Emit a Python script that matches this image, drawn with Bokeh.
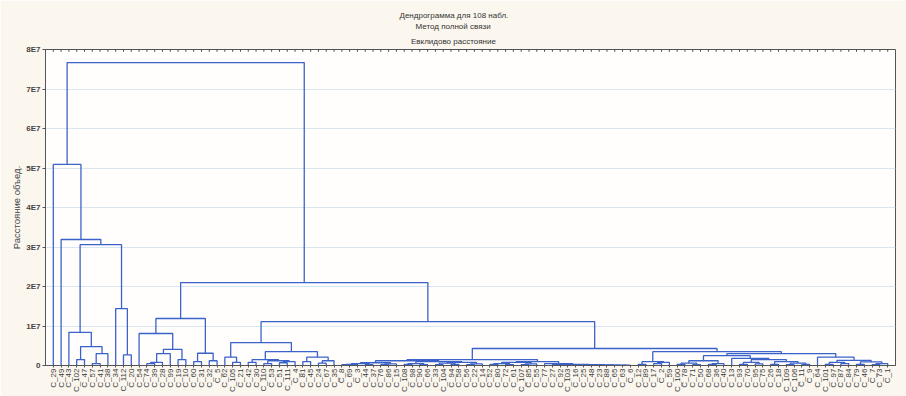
import numpy as np
from bokeh.plotting import figure
from bokeh.models import FixedTicker, Range1d, Title
from bokeh.embed import file_html
from bokeh.resources import INLINE

title_lines = ["Дендрограмма для 108 набл.", "Метод полной связи", "Евклидово расстояние"]
y_label = "Расстояние объед."

leaf_labels = [
    "C_29", "C_49", "C_43", "C_102", "C_47", "C_57", "C_41", "C_38", "C_34", "C_112",
    "C_20", "C_54", "C_74", "C_39", "C_28", "C_99", "C_19", "C_10", "C_60", "C_31",
    "C_32", "C_5", "C_62", "C_105", "C_21", "C_42", "C_30", "C_110", "C_53", "C_51",
    "C_111", "C_4", "C_81", "C_45", "C_24", "C_67", "C_35", "C_8", "C_69", "C_3",
    "C_44", "C_37", "C_76", "C_86", "C_15", "C_108", "C_98", "C_90", "C_66", "C_33",
    "C_104", "C_94", "C_58", "C_56", "C_22", "C_14", "C_52", "C_80", "C_72", "C_61",
    "C_107", "C_85", "C_55", "C_77", "C_27", "C_92", "C_103", "C_16", "C_25", "C_48",
    "C_23", "C_88", "C_65", "C_63", "C_6", "C_12", "C_89", "C_17", "C_2", "C_59",
    "C_100", "C_78", "C_71", "C_50", "C_68", "C_36", "C_40", "C_13", "C_93", "C_70",
    "C_95", "C_75", "C_26", "C_18", "C_109", "C_106", "C_11", "C_9", "C_64", "C_101",
    "C_97", "C_87", "C_84", "C_79", "C_46", "C_7", "C_73", "C_1",
]

# each merge joins leaves lo..split with split+1..hi (positions in leaf order, 1-based)
merge_lo = [4, 6, 6, 4, 3, 10, 9, 3, 2, 1,
            13, 13, 13, 17, 13, 12, 19, 21, 19, 12,
            24, 23, 26, 28, 30, 30, 28, 26, 33, 35, 35, 33, 26, 23,
            38, 38, 41, 38, 43, 43, 38, 46, 48, 46, 50, 52, 50, 54, 54, 50, 46, 38,
            57, 59, 57, 61, 61, 57, 74, 73, 72, 70, 70, 68, 67, 67, 65, 65, 64, 57, 38,
            76, 78, 78, 76,
            81, 83, 81, 85, 85, 81, 89, 91, 89, 93, 95, 97, 95, 93, 89, 88, 81,
            100, 102, 100, 104, 106, 106, 104, 100, 99, 81, 76, 38, 23, 12, 1]
merge_split = [4, 6, 7, 5, 3, 10, 9, 8, 2, 1,
               13, 14, 15, 17, 16, 12, 19, 21, 20, 18,
               24, 23, 26, 28, 30, 31, 29, 27, 33, 35, 36, 34, 32, 25,
               38, 39, 41, 40, 43, 44, 42, 46, 48, 47, 50, 52, 51, 54, 55, 53, 49, 45,
               57, 59, 58, 61, 62, 60, 74, 73, 72, 70, 71, 68, 67, 69, 65, 66, 64, 63, 56,
               76, 78, 79, 77,
               81, 83, 82, 85, 86, 84, 89, 91, 90, 93, 95, 97, 96, 94, 92, 88, 87,
               100, 102, 101, 104, 106, 107, 105, 103, 99, 98, 80, 75, 37, 22, 11]
merge_hi = [5, 7, 8, 8, 8, 11, 11, 11, 11, 11,
            14, 15, 16, 18, 18, 18, 20, 22, 22, 22,
            25, 25, 27, 29, 31, 32, 32, 32, 34, 36, 37, 37, 37, 37,
            39, 40, 42, 42, 44, 45, 45, 47, 49, 49, 51, 53, 53, 55, 56, 56, 56, 56,
            58, 60, 60, 62, 63, 63, 75, 75, 75, 71, 75, 69, 69, 75, 66, 75, 75, 75, 75,
            77, 79, 80, 80,
            82, 84, 84, 86, 87, 87, 90, 92, 92, 94, 96, 98, 98, 98, 98, 98, 98,
            101, 103, 103, 105, 107, 108, 108, 108, 108, 108, 108, 108, 108, 108, 108]
merge_height = [0.15, 0.05, 0.30, 0.48, 0.84, 0.27, 1.44, 3.06, 3.19, 5.09,
                0.05, 0.08, 0.30, 0.15, 0.41, 0.81, 0.10, 0.12, 0.31, 1.19,
                0.08, 0.21, 0.08, 0.05, 0.07, 0.10, 0.12, 0.15, 0.10, 0.06, 0.12, 0.21, 0.35, 0.58,
                0.02, 0.03, 0.02, 0.05, 0.02, 0.04, 0.07, 0.03, 0.02, 0.05, 0.02, 0.03, 0.06, 0.02, 0.04, 0.08, 0.10, 0.12,
                0.03, 0.02, 0.05, 0.02, 0.04, 0.08, 0.01, 0.01, 0.01, 0.01, 0.015, 0.01, 0.01, 0.02, 0.02, 0.03, 0.05, 0.10, 0.15,
                0.03, 0.05, 0.08, 0.10,
                0.03, 0.02, 0.06, 0.03, 0.05, 0.12, 0.03, 0.04, 0.08, 0.03, 0.02, 0.03, 0.06, 0.10, 0.15, 0.18, 0.25,
                0.03, 0.05, 0.08, 0.03, 0.02, 0.05, 0.09, 0.13, 0.21, 0.30, 0.35, 0.43, 1.11, 2.10, 7.67]
height_unit = 1e7

y_ticks = [0, 1, 2, 3, 4, 5, 6, 7, 8]
y_tick_labels = ["0", "1E7", "2E7", "3E7", "4E7", "5E7", "6E7", "7E7", "8E7"]

n_leaves = len(leaf_labels)
leaf_pos = list(range(1, n_leaves + 1))
y_max = y_ticks[-1] * height_unit

# ---- build dendrogram segments ----
node = {(i, i): (float(i), 0.0) for i in leaf_pos}
order = sorted(range(len(merge_lo)), key=lambda k: merge_hi[k] - merge_lo[k])
xs, ys = [], []
for k in order:
    lo, s, hi = merge_lo[k], merge_split[k], merge_hi[k]
    h = merge_height[k] * height_unit
    xl, hl = node[(lo, s)]
    xr, hr = node[(s + 1, hi)]
    xs.append([xl, xl, xr, xr])
    ys.append([hl, h, h, hr])
    node[(lo, hi)] = ((xl + xr) / 2.0, h)

W, H = 906, 396
B_LEFT, B_RIGHT, B_TOP, B_BOTTOM = 45, 11, 49, 31
FONT = "Liberation Sans"
p = figure(width=W, height=H, output_backend="svg", toolbar_location=None, title=None,
           x_range=Range1d(0, n_leaves + 1), y_range=Range1d(0, y_max),
           min_border_left=B_LEFT, min_border_right=B_RIGHT,
           min_border_top=B_TOP, min_border_bottom=B_BOTTOM,
           background_fill_color="#fffefc", border_fill_color="#fbf7ef",
           outline_line_color="#555555", outline_line_width=1)

p.multi_line(xs, ys, line_color="#3a62c9", line_width=1.3)

# small tick marks along the top edge, one per leaf
tick_len = y_max * 0.007
p.segment(x0=leaf_pos, y0=[y_max] * n_leaves, x1=leaf_pos, y1=[y_max - tick_len] * n_leaves,
          line_color="#444444", line_width=1)

# three title lines, each centred on the whole figure (approximate text widths)
approx_w = [108, 76, 85]
t_standoff = [0, 1, 7]
for i in (2, 1, 0):
    p.add_layout(Title(text=title_lines[i], align="left",
                       offset=W / 2 - B_LEFT - approx_w[i] / 2,
                       standoff=t_standoff[i],
                       text_font=FONT, text_font_size="8px", text_font_style="normal",
                       text_color="#333333"), "above")

# x axis (leaf labels)
p.xaxis.ticker = FixedTicker(ticks=leaf_pos)
p.xaxis.major_label_overrides = {i: lab for i, lab in zip(leaf_pos, leaf_labels)}
p.xaxis.major_label_orientation = np.pi / 2
p.xaxis.major_label_text_font = FONT
p.xaxis.major_label_text_font_size = "8px"
p.xaxis.major_label_text_color = "#3a3a3a"
p.xaxis.major_label_standoff = 1
p.xaxis.major_tick_out = 2
p.xaxis.major_tick_in = 0
p.xaxis.minor_tick_line_color = None
p.xaxis.axis_line_color = "#555555"
p.xaxis.major_tick_line_color = "#555555"
p.xgrid.grid_line_color = None

# y axis
p.yaxis.ticker = FixedTicker(ticks=[t * height_unit for t in y_ticks])
p.yaxis.major_label_overrides = {int(t * height_unit): lab for t, lab in zip(y_ticks, y_tick_labels)}
p.yaxis.major_label_text_font = FONT
p.yaxis.major_label_text_font_size = "8px"
p.yaxis.major_label_text_font_style = "bold"
p.yaxis.major_label_text_color = "#444444"
p.yaxis.major_label_standoff = 2
p.yaxis.major_tick_out = 3
p.yaxis.major_tick_in = 0
p.yaxis.minor_tick_line_color = None
p.yaxis.axis_line_color = "#555555"
p.yaxis.major_tick_line_color = "#555555"
p.yaxis.axis_label = y_label
p.yaxis.axis_label_text_font = FONT
p.yaxis.axis_label_text_font_size = "9.5px"
p.yaxis.axis_label_text_font_style = "normal"
p.yaxis.axis_label_text_color = "#444444"
p.yaxis.axis_label_standoff = 1
p.ygrid.grid_line_color = "#d8e6f2"
p.ygrid.grid_line_width = 1

open("out.html", "w").write(file_html(p, INLINE))
